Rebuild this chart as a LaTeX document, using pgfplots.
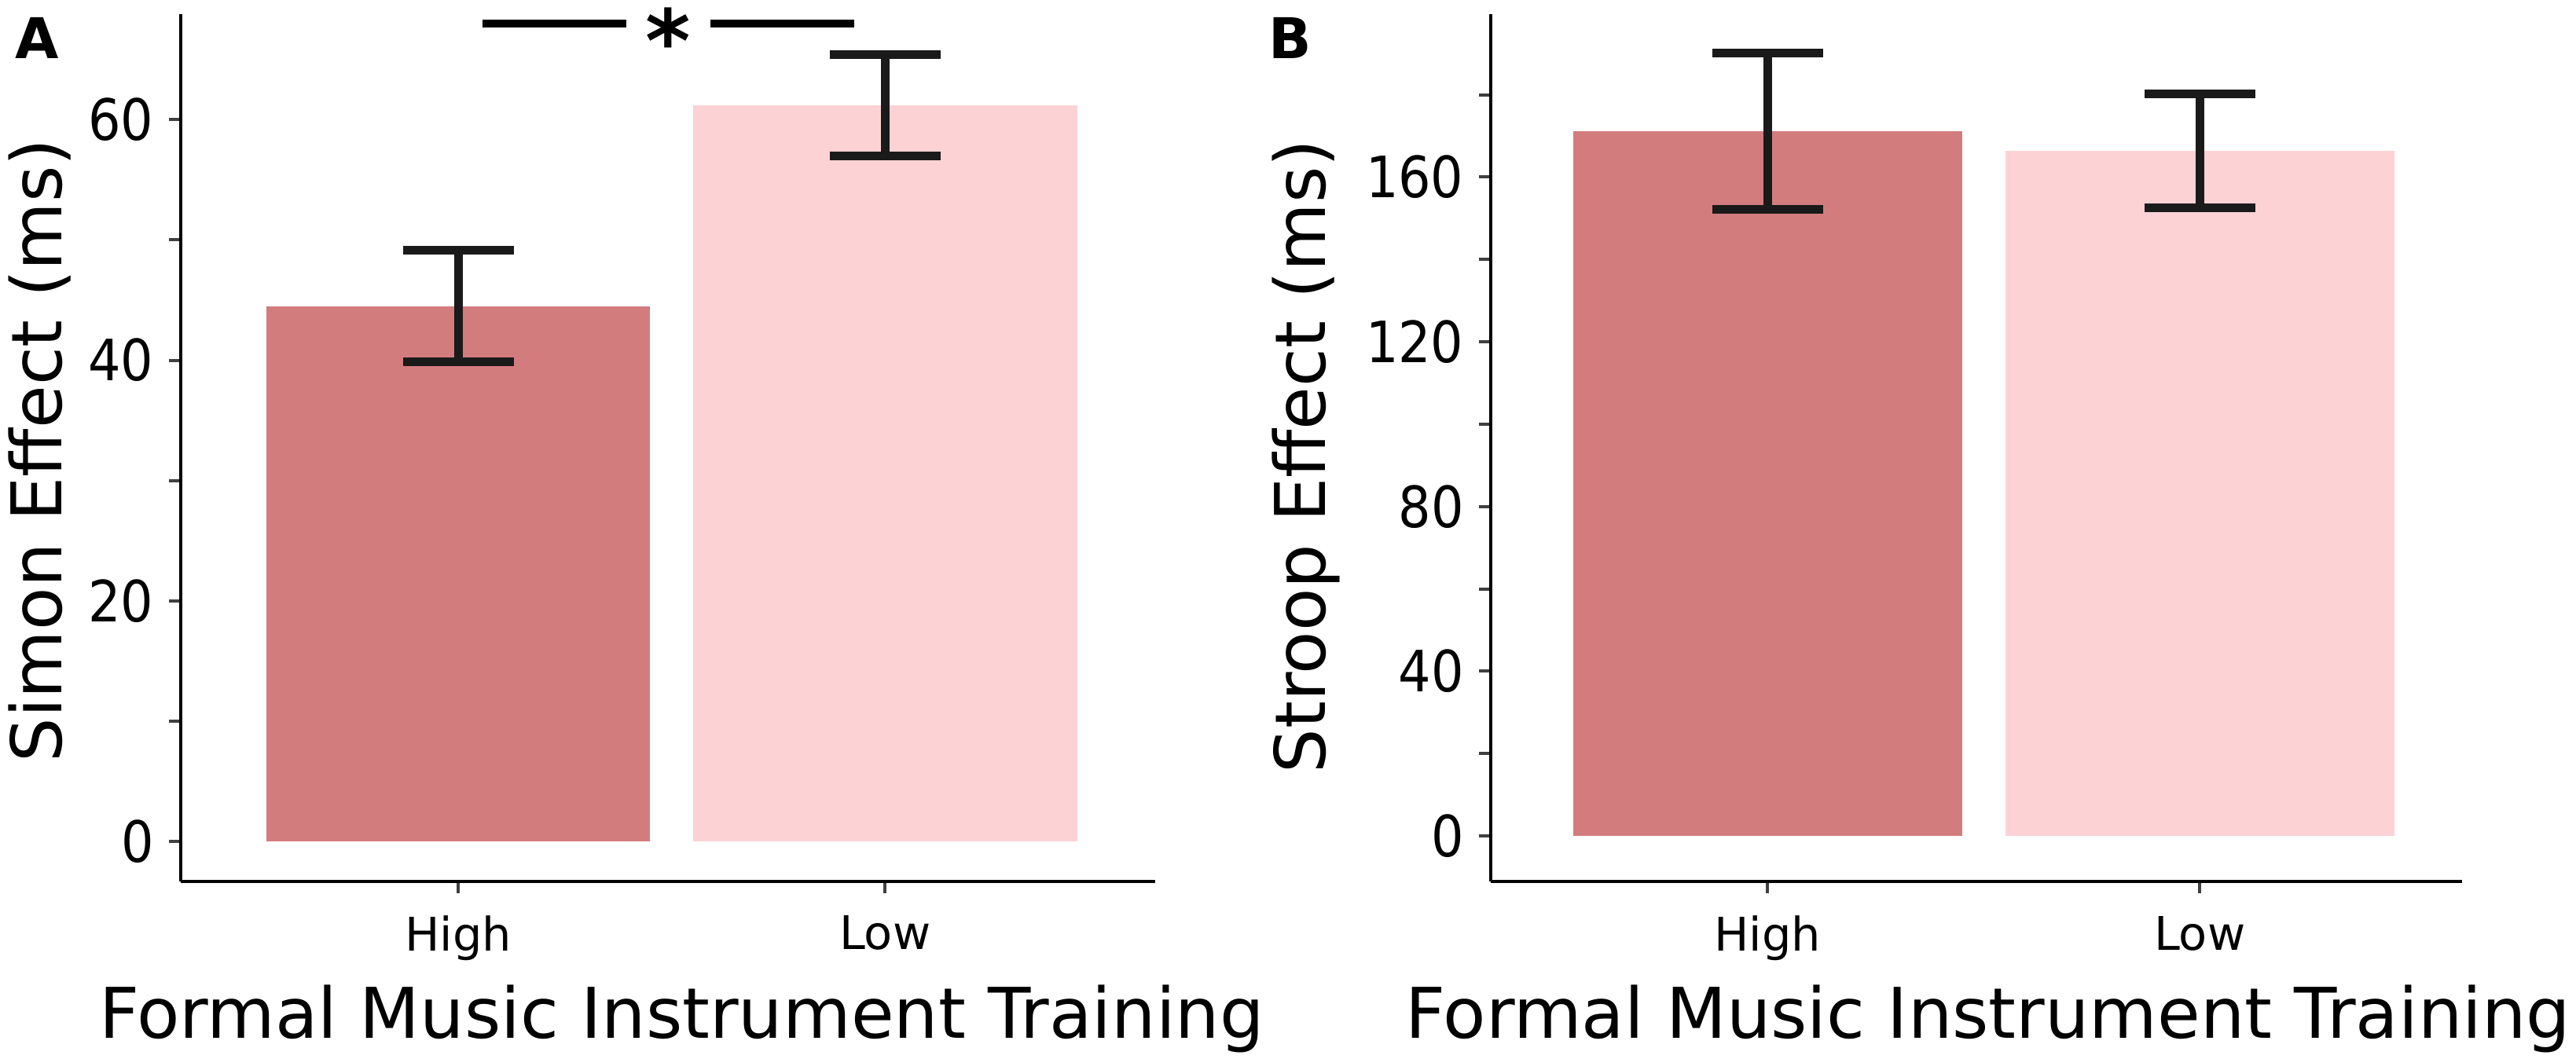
\documentclass[border=0pt]{standalone}
\usepackage{pgfplots}
\pgfplotsset{compat=1.18}
\usepackage{fontspec}
\setmainfont{DejaVu Sans Condensed}
\newfontfamily\panelfont{DejaVu Sans}
\definecolor{hibar}{RGB}{211,124,126}
\definecolor{lobar}{RGB}{252,210,212}
\definecolor{errc}{RGB}{26,26,26}
\pgfplotsset{
  panel/.style={
    scale only axis, height=220.8pt,
    axis x line=bottom, axis y line=left,
    axis line style={-, line width=0.9pt, black},
    xtick={1,2}, xticklabels={High,Low},
    tick align=outside, major tick length=3pt, minor tick length=3pt,
    every tick/.style={line width=0.8pt, black!75},
    /pgf/number format/assume math mode=true,
    yticklabel style={font=\fontsize{14.5}{16}\selectfont, anchor=east, inner sep=0pt, xshift=-3.7pt},
    xticklabel style={font=\panelfont\fontsize{11.8}{13}\selectfont, anchor=north, inner sep=0pt, yshift=-5.6pt},
    label style={font=\panelfont\fontsize{17.8}{20}\selectfont, inner sep=0pt},
    xlabel={Formal Music Instrument Training},
    clip=false,
  },
  bars/.style={ybar, bar width=0.9, bar shift=0, draw=none, fill=#1,
    error bars/.cd, y dir=both, y explicit,
    error bar style={draw=errc, line width=2.2pt},
    error mark options={draw=errc, rotate=90, mark size=14.1pt, line width=2.2pt}},
}
\begin{document}
\begin{tikzpicture}
\path[use as bounding box] (0,0) rectangle (655.6pt,269.6pt);
% Panel A
\begin{axis}[panel, at={(46pt,45.2pt)}, anchor=south west, width=248pt,
  xmin=0.35, xmax=2.633, ymin=-3.33, ymax=68.78,
  ytick={0,20,40,60}, minor ytick={10,30,50},
  ylabel={Simon Effect (ms)},
  xlabel style={at={(axis description cs:0.514,0)}, anchor=base, yshift=-40pt},
  ylabel style={at={(axis description cs:-0.122,0.497)}, anchor=base},
]
\addplot[bars=hibar] coordinates {(1,44.5) +- (0,4.65)};
\addplot[bars=lobar] coordinates {(2,61.2) +- (0,4.2)};
\draw[line width=2pt, black] (axis cs:1.057,68.0) -- (axis cs:1.394,68.0);
\draw[line width=2pt, black] (axis cs:1.591,68.0) -- (axis cs:1.928,68.0);
\node[font=\panelfont\bfseries\fontsize{22}{22}\selectfont, inner sep=0pt, yshift=-4.2pt] at (axis cs:1.492,68.0) {*};
\end{axis}
% Panel B
\begin{axis}[panel, at={(379.4pt,45.2pt)}, anchor=south west, width=247.2pt,
  xmin=0.36, xmax=2.607, ymin=-11.07, ymax=199.6,
  ytick={0,40,80,120,160}, minor ytick={20,60,100,140,180},
  ylabel={Stroop Effect (ms)},
  xlabel style={at={(axis description cs:0.512,0)}, anchor=base, yshift=-40pt},
  ylabel style={at={(axis description cs:-0.170,0.49)}, anchor=base},
]
\addplot[bars=hibar] coordinates {(1,171.2) +- (0,19.0)};
\addplot[bars=lobar] coordinates {(2,166.4) +- (0,13.8)};
\end{axis}
\node[font=\panelfont\bfseries\fontsize{14.3}{15}\selectfont, anchor=base, inner sep=0pt] at (9.4pt,254.6pt) {A};
\node[font=\panelfont\bfseries\fontsize{14.3}{15}\selectfont, anchor=base, inner sep=0pt] at (328.4pt,254.6pt) {B};
\end{tikzpicture}
\end{document}
